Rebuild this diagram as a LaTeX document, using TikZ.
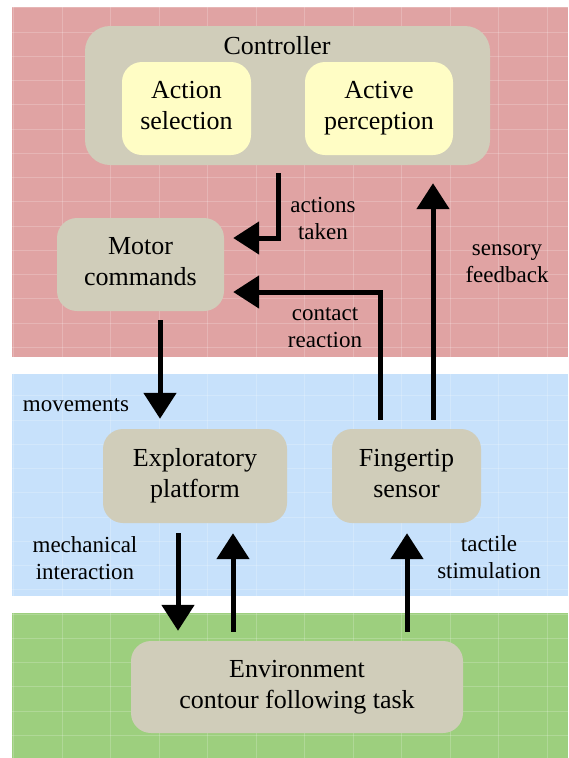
\documentclass[tikz,border=0pt]{standalone}
\usepackage{fontspec}
\setmainfont{Liberation Serif}
\usetikzlibrary{arrows.meta}
\definecolor{bandred}{RGB}{224,163,163}
\definecolor{bandblue}{RGB}{199,225,251}
\definecolor{bandgreen}{RGB}{157,207,126}
\definecolor{boxgray}{RGB}{208,205,186}
\definecolor{boxyellow}{RGB}{255,253,197}
\begin{document}
\begin{tikzpicture}[x=1pt,y=-1pt,
  box/.style={draw=none, fill=boxgray, rounded corners=20pt, align=center, inner sep=0pt, font=\fontsize{26}{31}\selectfont, execute at begin node={\rule{0pt}{23pt}}, execute at end node={\vphantom{Ap}}},
  inbox/.style={box, fill=boxyellow},
  lbl/.style={align=center, font=\fontsize{23}{27}\selectfont, inner sep=0pt},
  arr/.style={line width=5pt, -{Triangle[length=26pt,width=32pt]}},
  gridline/.style={white, opacity=0.2, line width=0.8pt}]
\useasboundingbox (0,0) rectangle (568,758);
\fill[bandred] (12,7) rectangle (568,357);
\fill[bandblue] (12,374) rectangle (568,596);
\fill[bandgreen] (12,613) rectangle (568,758);
\begin{scope}
  \clip (12,7) rectangle (568,357) (12,374) rectangle (568,596) (12,613) rectangle (568,758);
  \foreach \x in {13.5,62,...,568} \draw[gridline] (\x,0) -- (\x,758);
  \foreach \y in {7.75,32,...,758} \draw[gridline] (0,\y) -- (568,\y);
\end{scope}
% nodes
\node[box, minimum width=405pt, minimum height=139pt, rounded corners=25pt] (ctrl) at (287.5,95.5) {};
\node[inner sep=0pt, font=\fontsize{26}{31}\selectfont] (ctrlt) at (277,46) {Controller};
\node[inbox, minimum width=129pt, minimum height=93pt] (asel) at (186.5,108.5) {Action\\selection};
\node[inbox, minimum width=148pt, minimum height=93pt] (aper) at (379,108.5) {Active\\perception};
\node[box, minimum width=167pt, minimum height=93pt] (motor) at (140.5,264.5) {Motor\\commands};
\node[box, minimum width=184pt, minimum height=94pt] (expl) at (195,476) {Exploratory\\platform};
\node[box, minimum width=149pt, minimum height=94pt] (finger) at (406.5,476) {Fingertip\\sensor};
\node[box, minimum width=332pt, minimum height=92pt] (env) at (297,687) {Environment\\contour following task};
% helper coordinates
\coordinate (aT) at (278,238);
\coordinate (cR) at (380,292);
\coordinate (sF) at (433,0);
\coordinate (mV) at (160,0);
\coordinate (mD) at (178,0);
\coordinate (mU) at (233,0);
\coordinate (tU) at (407,0);
% connectors
\draw[arr, shorten <=8pt, shorten >=9pt] (ctrl.south -| aT) |- (motor.east |- aT);
\draw[arr, shorten <=9pt, shorten >=9pt] (finger.north -| cR) |- (motor.east |- cR);
\draw[arr, shorten <=9pt, shorten >=18pt] (finger.north -| sF) -- (ctrl.south -| sF);
\draw[arr, shorten <=9pt, shorten >=10pt] (motor.south -| mV) -- (expl.north -| mV);
\draw[arr, shorten <=10pt, shorten >=10pt] (expl.south -| mD) -- (env.north -| mD);
\draw[arr, shorten <=9pt, shorten >=10pt] (env.north -| mU) -- (expl.south -| mU);
\draw[arr, shorten <=9pt, shorten >=10pt] (env.north -| tU) -- (finger.south -| tU);
% labels
\node[lbl] (l1) at (323,218) {actions\\taken};
\node[lbl] (l2) at (325,328) {contact\\reaction};
\node[lbl] (l3) at (507,263.5) {sensory\\feedback};
\node[lbl] (l4) at (76,405) {movements};
\node[lbl] (l5) at (85,558) {mechanical\\interaction};
\node[lbl] (l6) at (489,557.5) {tactile\\stimulation};
\end{tikzpicture}
\end{document}
